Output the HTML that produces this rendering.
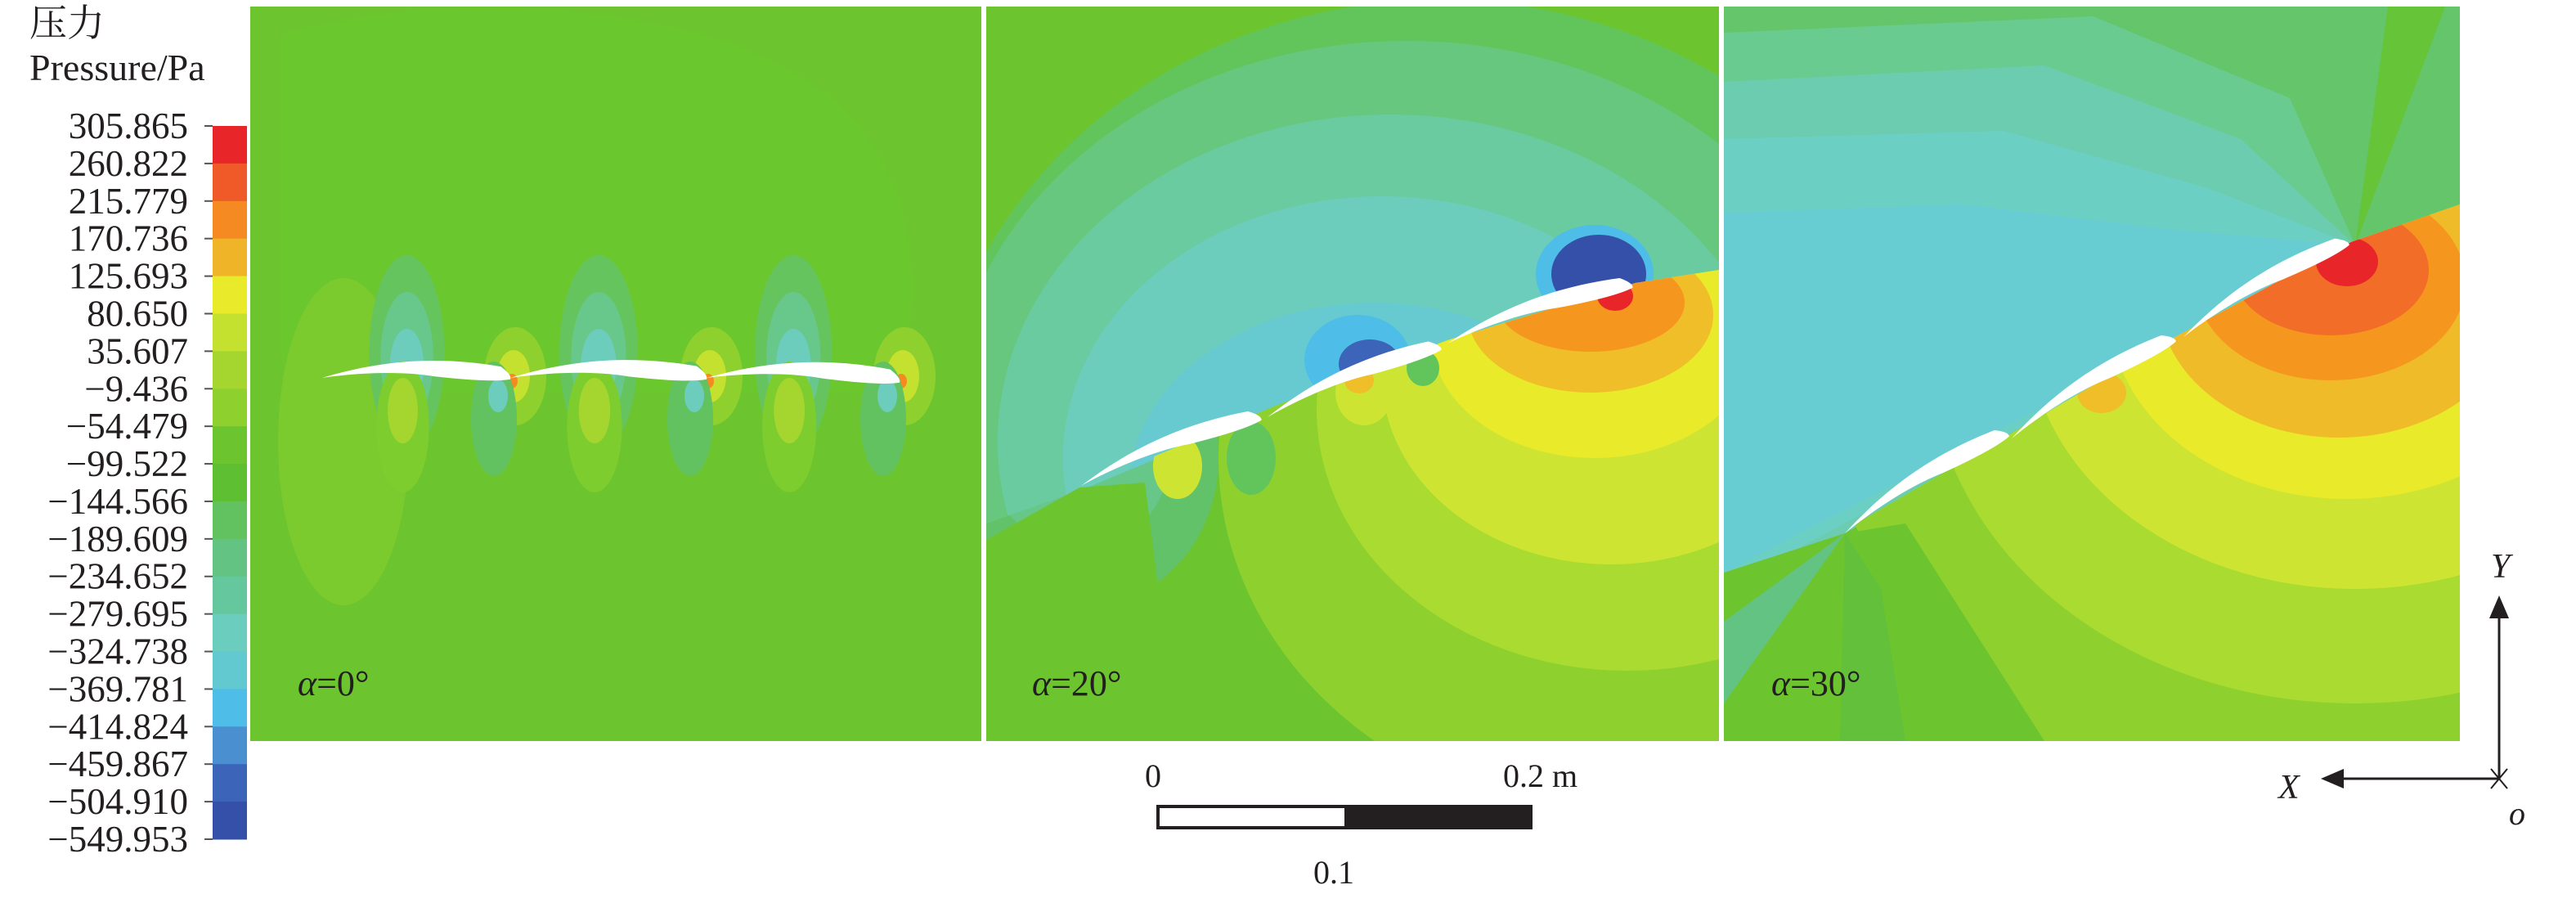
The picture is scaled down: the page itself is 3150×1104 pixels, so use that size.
<!DOCTYPE html>
<html><head><meta charset="utf-8"><title>Pressure contours</title>
<style>
html,body{margin:0;padding:0;background:#fff;}
svg{display:block;}
text{font-family:"Liberation Serif","Noto Serif CJK SC",serif;fill:#231f20;}
</style></head>
<body>
<svg id="fig" width="3150" height="1104" viewBox="0 0 3150 1104" xmlns="http://www.w3.org/2000/svg">
<defs>
  <clipPath id="p1"><rect x="306" y="8" width="894" height="898"/></clipPath>
  <clipPath id="p2"><rect x="1206" y="8" width="896" height="898"/></clipPath>
  <clipPath id="p3"><rect x="2108" y="8" width="900" height="898"/></clipPath>
  <clipPath id="up2"><polygon points="1206,8 2102,8 2102,330 2000,350 1770,420 1560,500 1320,600 1206,640"/></clipPath>
  <clipPath id="lo2"><polygon points="1206,660 1320,596 1560,496 1770,416 2000,346 2102,330 2102,906 1206,906"/></clipPath>
  <clipPath id="up3"><polygon points="2108,8 3008,8 3008,250 2875,300 2660,416 2456,536 2256,652 2108,700"/></clipPath>
  <clipPath id="lo3"><polygon points="2108,720 2256,648 2456,532 2660,412 2875,296 3008,250 3008,906 2108,906"/></clipPath>
</defs>

<!-- Panel 1 -->
<g clip-path="url(#p1)">
  <rect x="306" y="8" width="894" height="898" fill="#6cc52e"/>
  <path d="M345,40 Q600,-20 850,40 Q1150,120 1110,420 L1100,480 L345,480 Z" fill="#6ac82f" opacity="0.6"/>
  <ellipse cx="420" cy="540" rx="80" ry="200" fill="#7ccb2e"/>
  <g id="p1marks"></g>
</g>

<!-- Panel 2 -->
<g clip-path="url(#p2)">
  <rect x="1206" y="8" width="896" height="898" fill="#6cc52e"/>
  <ellipse cx="1330" cy="560" rx="160" ry="180" fill="#62c26a"/>
  <ellipse cx="1320" cy="560" rx="110" ry="110" fill="#67c789"/>
  <g clip-path="url(#up2)">
    <ellipse cx="1760" cy="560" rx="620" ry="560" fill="#62c55c"/>
    <ellipse cx="1720" cy="520" rx="560" ry="470" fill="#67c77e"/>
    <ellipse cx="1700" cy="540" rx="480" ry="400" fill="#6acba0"/>
    <ellipse cx="1690" cy="560" rx="390" ry="320" fill="#6ccdbd"/>
    <ellipse cx="1680" cy="600" rx="300" ry="230" fill="#66cad0"/>
    <ellipse cx="1660" cy="440" rx="65" ry="55" fill="#4ebde8"/>
    <ellipse cx="1675" cy="445" rx="38" ry="30" fill="#3c64b8"/>
    <ellipse cx="1950" cy="335" rx="72" ry="60" fill="#4ebde8"/>
    <ellipse cx="1955" cy="335" rx="58" ry="48" fill="#3450a8"/>
  </g>
  <g clip-path="url(#lo2)">
    <ellipse cx="1990" cy="560" rx="500" ry="440" fill="#8ed12e"/>
    <ellipse cx="1990" cy="500" rx="380" ry="320" fill="#aadb30"/>
    <ellipse cx="1970" cy="460" rx="280" ry="230" fill="#cde532"/>
    <ellipse cx="1950" cy="410" rx="200" ry="150" fill="#e9ea2a"/>
    <ellipse cx="1945" cy="385" rx="150" ry="95" fill="#f0be28"/>
    <ellipse cx="1945" cy="370" rx="115" ry="60" fill="#f5961f"/>
    <ellipse cx="1975" cy="362" rx="22" ry="18" fill="#e8262a"/>
    <ellipse cx="1668" cy="480" rx="35" ry="40" fill="#cde532"/>
    <ellipse cx="1662" cy="465" rx="18" ry="16" fill="#f0be28"/>
    <ellipse cx="1740" cy="450" rx="20" ry="22" fill="#62c55c"/>
    <path d="M1320,596 L1400,590 L1440,906 L1206,906 L1206,660 Z" fill="#6cc52e"/>
    <ellipse cx="1440" cy="570" rx="30" ry="40" fill="#cde532"/>
    <ellipse cx="1530" cy="560" rx="30" ry="45" fill="#62c55c"/>
  </g>
</g>

<!-- Panel 3 -->
<g clip-path="url(#p3)">
  <rect x="2108" y="8" width="900" height="898" fill="#6cc52e"/>
  <g clip-path="url(#up3)">
    <rect x="2108" y="8" width="900" height="898" fill="#64c56a"/>
    <path d="M2108,40 L2560,20 L2800,120 L2880,300 L2108,760 Z" fill="#6acb90"/>
    <path d="M2108,100 L2500,80 L2740,170 L2880,300 L2108,740 Z" fill="#6cccb0"/>
    <path d="M2108,170 L2450,160 L2700,230 L2880,300 L2108,720 Z" fill="#6ccfc4"/>
    <path d="M2108,260 L2400,250 L2650,280 L2880,300 L2108,700 Z" fill="#68cdd2"/>
    <path d="M2880,300 L2920,8 L2990,8 Z" fill="#66c438"/>
  </g>
  <g clip-path="url(#lo3)">
    <ellipse cx="2870" cy="450" rx="640" ry="560" fill="#8ed12e"/>
    <ellipse cx="2880" cy="430" rx="520" ry="430" fill="#aadb30"/>
    <ellipse cx="2880" cy="400" rx="400" ry="320" fill="#cde532"/>
    <ellipse cx="2870" cy="380" rx="290" ry="230" fill="#e9ea2a"/>
    <ellipse cx="2860" cy="365" rx="220" ry="170" fill="#efbb28"/>
    <ellipse cx="2850" cy="345" rx="165" ry="120" fill="#f5961f"/>
    <ellipse cx="2850" cy="330" rx="120" ry="80" fill="#f26e28"/>
    <ellipse cx="2870" cy="320" rx="38" ry="30" fill="#e8262a"/>
    <ellipse cx="2570" cy="480" rx="30" ry="25" fill="#f0be28"/>
    <path d="M2256,652 L2330,640 L2500,906 L2108,906 L2108,720 Z" fill="#6cc52e"/>
    <path d="M2256,652 L2108,760 L2108,860 Z" fill="#62c383"/>
    <path d="M2256,652 L2300,720 L2330,906 L2250,906 Z" fill="#62c03a"/>
  </g>
</g>

<g id="airfoils"></g>

<!-- separators -->
<rect x="1200" y="8" width="6" height="898" fill="#fff"/>
<rect x="2102" y="8" width="6" height="898" fill="#fff"/>

<text x="364" y="850" font-size="44"><tspan font-style="italic">α</tspan>=0°</text>
<text x="1262" y="850" font-size="44"><tspan font-style="italic">α</tspan>=20°</text>
<text x="2166" y="850" font-size="44"><tspan font-style="italic">α</tspan>=30°</text>

<!-- colorbar -->
<text x="36" y="44" font-size="46">压力</text>
<text x="36" y="98" font-size="46">Pressure/Pa</text>
<g id="colorbar"></g>

<!-- scale bar -->
<g>
  <text x="1400" y="962" font-size="40">0</text>
  <text x="1838" y="962" font-size="40">0.2 m</text>
  <rect x="1414" y="984" width="460" height="30" fill="#231f20"/>
  <rect x="1418" y="988" width="226" height="22" fill="#fff"/>
  <text x="1606" y="1080" font-size="40">0.1</text>
</g>

<!-- axes indicator -->
<g>
  <line x1="3056" y1="952" x2="3056" y2="752" stroke="#231f20" stroke-width="3"/>
  <polygon points="3056,728 3044,756 3068,756" fill="#231f20"/>
  <line x1="3056" y1="952" x2="2862" y2="952" stroke="#231f20" stroke-width="3"/>
  <polygon points="2838,952 2866,940 2866,964" fill="#231f20"/>
  <line x1="3046" y1="940" x2="3066" y2="964" stroke="#231f20" stroke-width="2"/>
  <line x1="3066" y1="940" x2="3046" y2="964" stroke="#231f20" stroke-width="2"/>
  <text x="3046" y="706" font-size="42" font-style="italic">Y</text>
  <text x="2786" y="976" font-size="42" font-style="italic">X</text>
  <text x="3068" y="1008" font-size="40" font-style="italic">o</text>
</g>
</svg>
<script>
const levelLabels = ["305.865","260.822","215.779","170.736","125.693","80.650","35.607","\u22129.436","\u221254.479","\u221299.522","\u2212144.566","\u2212189.609","\u2212234.652","\u2212279.695","\u2212324.738","\u2212369.781","\u2212414.824","\u2212459.867","\u2212504.910","\u2212549.953"];
const bandColors = ["#e8262a","#f05a28","#f58a22","#f0b428","#e9ea2a","#c5e12f","#a4d62f","#8ed12e","#6cc52e","#5fbf32","#62c260","#62c383","#65c79e","#6acdbd","#62c9d0","#4ebde8","#4a90d0","#3c64b8","#3450a8"];
// airfoil endpoints
const airfoilLead = [[394,462],[624,462],[864,462],[1322,594],[1550,510],[1770,420],[2256,652],[2460,536],[2670,412]];
const airfoilTrail = [[624,462],[864,462],[1100,466],[1542,512],[1762,426],[1996,350],[2456,532],[2660,416],[2872,298]];
const ns = "http://www.w3.org/2000/svg";

const cb = document.getElementById('colorbar');
const cbTop = 154, cbBot = 1026, cbX = 260, cbW = 42;
const nBands = bandColors.length;
const yScale = i => cbTop + (cbBot - cbTop) * i / nBands;
bandColors.forEach((c, i) => {
  const r = document.createElementNS(ns, 'rect');
  r.setAttribute('x', cbX); r.setAttribute('y', yScale(i));
  r.setAttribute('width', cbW); r.setAttribute('height', (cbBot - cbTop) / nBands + 0.5);
  r.setAttribute('fill', c);
  
  
  cb.appendChild(r);
});
const lblScale = i => cbTop + (cbBot - cbTop) * i / (levelLabels.length - 1);
levelLabels.forEach((t, i) => {
  const y = lblScale(i);
  const tk = document.createElementNS(ns, 'line');
  tk.setAttribute('x1', cbX - 10); tk.setAttribute('x2', cbX); tk.setAttribute('y1', y); tk.setAttribute('y2', y);
  tk.setAttribute('stroke', '#555'); tk.setAttribute('stroke-width', '2');
  
  
  cb.appendChild(tk);
  const tx = document.createElementNS(ns, 'text');
  tx.setAttribute('x', 230); tx.setAttribute('y', y + 15);
  tx.setAttribute('font-size', '45'); tx.setAttribute('text-anchor', 'end');
  tx.textContent = t;
  
  
  cb.appendChild(tx);
});

const p1 = document.getElementById('p1marks');
function ell(parent, cx, cy, rx, ry, fill) {
  const e = document.createElementNS(ns, 'ellipse');
  e.setAttribute('cx', cx); e.setAttribute('cy', cy); e.setAttribute('rx', rx); e.setAttribute('ry', ry);
  e.setAttribute('fill', fill);
  
  
  parent.appendChild(e);
}
for (let k = 0; k < 3; k++) {
  const [ax, ay] = airfoilLead[k], [bx] = airfoilTrail[k];
  const L = bx - ax;
  const mx = ax + L * 0.45;
  ell(p1, mx, ay - 30, L * 0.2, 120, '#66c45e');
  ell(p1, mx, ay - 25, L * 0.14, 80, '#68c88c');
  ell(p1, mx, ay - 15, L * 0.09, 45, '#6ccdbd');
  ell(p1, mx - 5, ay + 60, L * 0.14, 80, '#7ecd2e');
  ell(p1, mx - 5, ay + 40, L * 0.08, 40, '#a4d62f');
  ell(p1, bx + 6, ay - 2, 38, 60, '#8ed12e');
  ell(p1, bx + 4, ay - 2, 20, 32, '#c5e12f');
  ell(p1, bx + 2, ay + 4, 7, 9, '#f58a22');
  ell(p1, bx - 20, ay + 50, 28, 70, '#62c260');
  ell(p1, bx - 15, ay + 22, 12, 20, '#6ccdbd');
}

const af = document.getElementById('airfoils');
airfoilLead.forEach((a, i) => {
  const b = airfoilTrail[i];
  const dx = b[0] - a[0], dy = b[1] - a[1];
  const L = Math.hypot(dx, dy), ang = Math.atan2(dy, dx) * 180 / Math.PI;
  const th = L * 0.075;
  const d = `M0,0 C${L*0.3},${-th*1.2} ${L*0.6},${-th*1.6} ${L*0.95},${-th*0.8} Q${L*1.01},${-th*0.2} ${L},${th*0.1} Q${L*0.9},${th*0.35} ${L*0.6},${-th*0.1} C${L*0.4},${-th*0.55} ${L*0.15},${-th*0.3} 0,0 Z`;
  const p = document.createElementNS(ns, 'path');
  p.setAttribute('d', d);
  p.setAttribute('fill', '#fff');
  p.setAttribute('transform', `translate(${a[0]},${a[1]}) rotate(${ang})`);
  
  
  af.appendChild(p);
});
</script>
</body></html>
